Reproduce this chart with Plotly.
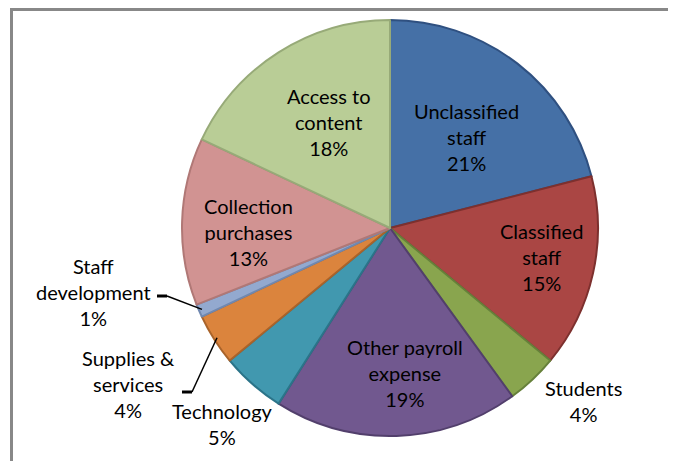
import math
import plotly.graph_objects as go

labels = ["Unclassified staff", "Classified staff", "Students", "Other payroll expense",
          "Technology", "Supplies & services", "Staff development",
          "Collection purchases", "Access to content"]
display_labels = ["Unclassified<br>staff", "Classified<br>staff", "Students",
                  "Other payroll<br>expense", "Technology", "Supplies &<br>services",
                  "Staff<br>development", "Collection<br>purchases", "Access to<br>content"]
values = [21, 15, 4, 19, 5, 4, 1, 13, 18]
fill_colors = ["#4570A6", "#AA4644", "#89A54E", "#71588F", "#4198AF",
               "#DB843D", "#93A9CF", "#D19392", "#B9CD96"]
line_colors = ["#2F5080", "#7D302E", "#66803A", "#523F6C", "#2B7489",
               "#A9632A", "#7088B0", "#B07876", "#97AA78"]

# page offset (body margin) and figure size
OFF = 8
W, H = 660, 453
cx, cy, r = 390 - OFF, 228 - OFF, 208

def px(x):
    return (x - OFF) / W

def py(y):
    return 1 - (y - OFF) / H

font = dict(family="Lato", size=20, color="#000000")

fig = go.Figure()
fig.add_trace(go.Pie(
    labels=labels, values=values,
    sort=False, direction="clockwise", rotation=0,
    marker=dict(colors=fill_colors, line=dict(color=line_colors, width=2)),
    textinfo="none",
    hoverinfo="label+percent",
    domain=dict(x=[(cx - r) / W, (cx + r) / W], y=[1 - (cy + r) / H, 1 - (cy - r) / H]),
    showlegend=False,
))

total = sum(values)
cum = [sum(values[:i]) for i in range(len(values))]

def edge_point(i, frac=1.0):
    ang = 2 * math.pi * (cum[i] + values[i] / 2) / total
    x = cx + r * frac * math.sin(ang)
    y = cy - r * frac * math.cos(ang)
    return x / W, 1 - y / H

pct = [round(100 * v / total) for v in values]

# data labels: index -> (text centre x, y) in page px
label_pos = {0: (466, 137), 1: (541, 257), 2: (583, 401), 3: (405, 373),
             4: (222, 424), 5: (129, 384), 6: (93, 292), 7: (248, 232), 8: (328, 122)}
for i, (tx, ty) in label_pos.items():
    fig.add_annotation(x=px(tx), y=py(ty), xref="paper", yref="paper",
                       xanchor="center", yanchor="middle",
                       text=f"{display_labels[i]}<br>{pct[i]}%", showarrow=False,
                       font=font, align="center")

# leader lines: index -> (start x, y) in page px
leaders = {6: (157, 296), 5: (182, 392)}
for i, (lx, ly) in leaders.items():
    ex, ey = edge_point(i, 0.985)
    fig.add_shape(type="line", xref="paper", yref="paper",
                  x0=px(lx), y0=py(ly), x1=px(lx + 10), y1=py(ly),
                  line=dict(color="#000000", width=3))
    fig.add_shape(type="line", xref="paper", yref="paper",
                  x0=px(lx + 10), y0=py(ly), x1=ex, y1=ey,
                  line=dict(color="#000000", width=1.5))

# chart frame (top and left edges visible)
frame = dict(color="#888888", width=3)
fig.add_shape(type="line", xref="paper", yref="paper", x0=px(11.5), y0=0, x1=px(11.5), y1=1 - 1.5 / H,
              line=frame)
fig.add_shape(type="line", xref="paper", yref="paper", x0=px(10), y0=1 - 1.5 / H, x1=1, y1=1 - 1.5 / H,
              line=frame)

fig.update_layout(width=W, height=H, margin=dict(l=0, r=0, t=0, b=0),
                  paper_bgcolor="white", plot_bgcolor="white", font=font)
fig.write_html("out.html")
